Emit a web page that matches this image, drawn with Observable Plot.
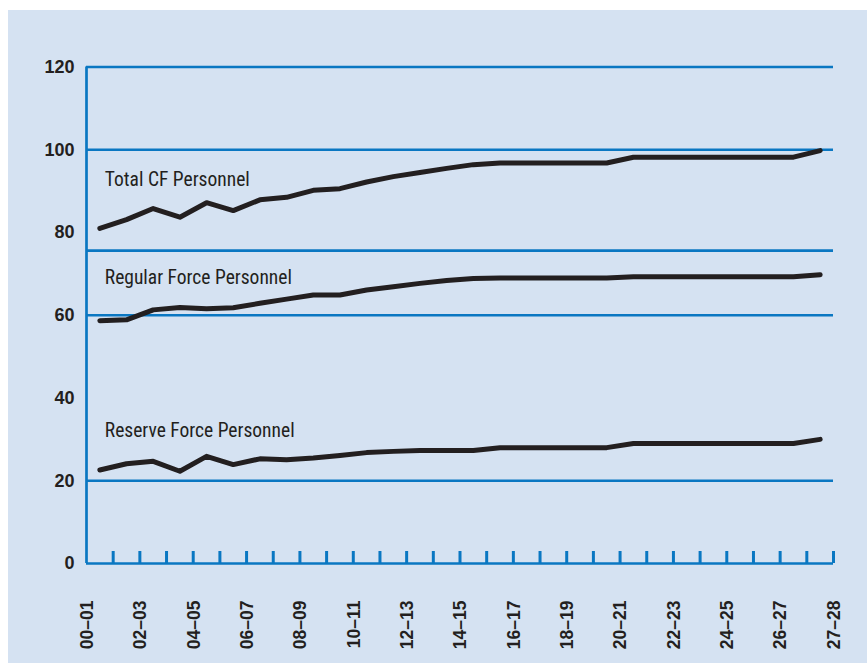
<!DOCTYPE html>
<html><head><meta charset="utf-8">
<script src="https://cdn.jsdelivr.net/npm/d3@7"></script>
<script src="https://cdn.jsdelivr.net/npm/@observablehq/plot@0.6"></script>
<style>
html,body{margin:0;padding:0;background:#fff;}
#chart{position:absolute;left:8px;top:10px;width:859px;height:653px;background:#d5e2f2;}
</style></head><body><div id="chart"></div>
<script>
const years = ["00–01","01–02","02–03","03–04","04–05","05–06","06–07","07–08","08–09","09–10","10–11","11–12","12–13","13–14","14–15","15–16","16–17","17–18","18–19","19–20","20–21","21–22","22–23","23–24","24–25","25–26","26–27","27–28"];
const total = [81.0, 83.1, 85.8, 83.7, 87.2, 85.3, 87.9, 88.5, 90.2, 90.6, 92.2, 93.5, 94.5, 95.5, 96.4, 96.8, 96.8, 96.8, 96.8, 96.8, 98.2, 98.2, 98.2, 98.2, 98.2, 98.2, 98.2, 99.8];
const regular = [58.7, 58.9, 61.3, 61.9, 61.6, 61.8, 62.9, 63.9, 64.9, 64.9, 66.1, 66.9, 67.7, 68.4, 68.9, 69.0, 69.0, 69.0, 69.0, 69.0, 69.3, 69.3, 69.3, 69.3, 69.3, 69.3, 69.3, 69.8];
const reserve = [22.6, 24.1, 24.7, 22.3, 25.9, 23.9, 25.3, 25.1, 25.5, 26.1, 26.8, 27.1, 27.3, 27.3, 27.3, 28.0, 28.0, 28.0, 28.0, 28.0, 29.0, 29.0, 29.0, 29.0, 29.0, 29.0, 29.0, 30.0];
const seriesNames = ["Total CF Personnel","Regular Force Personnel","Reserve Force Personnel"];
const seriesLabelY = [92.7, 69.0, 32.0];
const yTicks = [0, 20, 40, 60, 80, 100, 120];
const gridValues = [120, 100, 75.6, 60, 20];
const xLabels = ["00–01","02–03","04–05","06–07","08–09","10–11","12–13","14–15","16–17","18–19","20–21","22–23","24–25","26–27","27–28"];
const xLabelAt = [0, 2, 4, 6, 8, 10, 12, 14, 16, 18, 20, 22, 24, 26, 28];

const seriesValues = [total, regular, reserve];
const rows = [];
seriesNames.forEach((name, s) => years.forEach((yr, i) => rows.push({series: name, i, year: yr, value: seriesValues[s][i]})));
const boundaries = years.map((d, i) => i + 0.5);

const W = 859, H = 653, mT = 56.5, mB = 100, mL = 78, mR = 34;
const blue = "#0a77c2", ink = "#231f20";

const chart = Plot.plot({
  width: W, height: H,
  marginTop: mT, marginBottom: mB, marginLeft: mL, marginRight: mR,
  style: {background: "transparent", fontFamily: "'Liberation Sans', Arial, sans-serif", fontSize: "18px", fontWeight: "bold", color: ink, overflow: "visible"},
  x: {domain: [-0.5, years.length - 0.5], axis: null},
  y: {domain: [0, 120], ticks: yTicks, tickSize: 0, tickPadding: 12, label: null},
  marks: [
    Plot.ruleY(gridValues, {stroke: blue, strokeWidth: 2.7}),
    Plot.ruleY([0], {stroke: blue, strokeWidth: 2.7}),
    Plot.ruleX([-0.5], {stroke: blue, strokeWidth: 2.7}),
    Plot.tickX(boundaries, {x: d => d, stroke: blue, strokeWidth: 3, insetTop: H - mT - mB - 12}),
    Plot.line(rows, {x: "i", y: "value", z: "series", stroke: ink, strokeWidth: 5, strokeLinejoin: "round", strokeLinecap: "round"}),
    Plot.text(seriesNames, {x: () => 0, y: (d, i) => seriesLabelY[i], text: d => d, textAnchor: "start", dx: 5, fontSize: 19.5, fontWeight: "normal", fontFamily: "'Liberation Sans Narrow', 'Roboto Condensed', 'DejaVu Sans Condensed', 'Liberation Sans', sans-serif", fill: ink}),
    Plot.text(xLabels, {x: (d, i) => xLabelAt[i], text: d => d, frameAnchor: "bottom", rotate: -90, textAnchor: "end", dy: 37, dx: -7, fontSize: 17.5, fontWeight: "bold", fontFamily: "'Liberation Sans', Arial, sans-serif", fill: ink})
  ]
});
document.getElementById("chart").appendChild(chart);
</script></body></html>
